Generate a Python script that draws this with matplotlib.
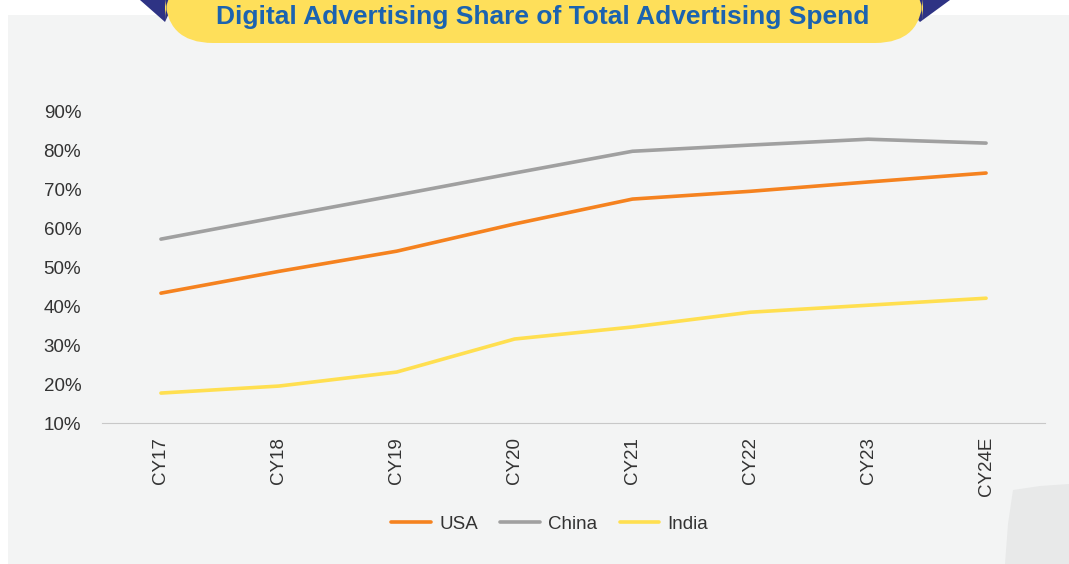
import matplotlib.pyplot as plt
from matplotlib.patches import FancyBboxPatch, Polygon, Rectangle

years = ['CY17', 'CY18', 'CY19', 'CY20', 'CY21', 'CY22', 'CY23', 'CY24E']
usa = [43.4, 49.0, 54.2, 61.2, 67.6, 69.6, 72.0, 74.3]
china = [57.3, 63.0, 68.6, 74.3, 79.9, 81.5, 83.0, 82.0]
india = [17.7, 19.5, 23.1, 31.6, 34.7, 38.5, 40.3, 42.1]

plt.rcParams['font.family'] = ['Liberation Sans', 'DejaVu Sans']

fig = plt.figure(figsize=(10.69, 5.64), dpi=100)
fig.patch.set_facecolor('white')

# background panel
fig.patches.append(Rectangle((8/1069, 0), 1, 1 - 15/564, transform=fig.transFigure,
                             facecolor='#f3f4f4', edgecolor='none', zorder=-3))
# page curl bottom right
fig.patches.append(Polygon([(1005/1069, 0), (1008/1069, 40/564), (1013/1069, 74/564),
                            (1040/1069, 78/564), (1069/1069, 80/564), (1, 0)],
                           closed=True, transform=fig.transFigure,
                           facecolor='#e8e9e9', edgecolor='none', zorder=-2))

# title banner
fig.patches.append(Polygon([(140/1069, 1), (165/1069, 1 - 22/564), (175/1069, 1)],
                           closed=True, transform=fig.transFigure,
                           facecolor='#2e3384', edgecolor='none', zorder=-1))
fig.patches.append(Polygon([(950/1069, 1), (920/1069, 1 - 22/564), (900/1069, 1)],
                           closed=True, transform=fig.transFigure,
                           facecolor='#2e3384', edgecolor='none', zorder=-1))
fig.patches.append(FancyBboxPatch((165/1069, 1 - 43/564), 758/1069, 70/564,
                                  boxstyle='round,pad=0,rounding_size=0.045',
                                  transform=fig.transFigure, mutation_aspect=1069/564,
                                  facecolor='#fedf5a', edgecolor='none', zorder=-1))
fig.text(543/1069, 1 - 17/564, 'Digital Advertising Share of Total Advertising Spend',
         ha='center', va='center', fontsize=19, fontweight='bold', color='#1b63b0',
         zorder=3)

ax = fig.add_axes([102/1069, 1 - 423/564, (1045 - 102)/1069, (423 - 112)/564])
ax.set_zorder(5)
ax.set_facecolor('none')
x = range(len(years))
ax.plot(x, usa, color='#f5821f', lw=2.6, label='USA', solid_capstyle='round')
ax.plot(x, china, color='#a0a0a0', lw=2.6, label='China', solid_capstyle='round')
ax.plot(x, india, color='#ffdf50', lw=2.6, label='India', solid_capstyle='round')

ax.set_xlim(-0.5, len(years) - 0.5)
ax.set_ylim(10, 90)
ax.set_yticks(range(10, 91, 10))
ax.set_yticklabels([f'{v}%' for v in range(10, 91, 10)])
ax.set_xticks(list(x))
ax.set_xticklabels(years, rotation=90)
for s in ['top', 'right', 'left']:
    ax.spines[s].set_visible(False)
ax.spines['bottom'].set_color('#c8c8c8')
ax.tick_params(axis='both', length=0, labelsize=13.5, colors='#333333')
ax.tick_params(axis='y', pad=15)
ax.tick_params(axis='x', pad=10)

ax.legend(loc='center', bbox_to_anchor=(0.475, -0.325), ncol=3, frameon=False,
          fontsize=13.5, handlelength=2.1, columnspacing=1.2, handletextpad=0.45,
          labelcolor='#333333')

fig.savefig('out.png', dpi=100)
